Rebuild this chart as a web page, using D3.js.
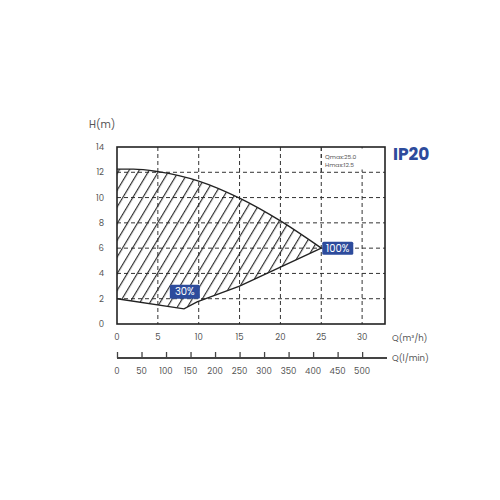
<!DOCTYPE html>
<html><head><meta charset="utf-8">
<script src="https://cdn.jsdelivr.net/npm/d3@7"></script>
<style>body{margin:0;background:#fff}svg{display:block}</style>
</head><body>
<svg id="c" width="500" height="500"></svg>
<script>
// ---- data ----
const yTicks = [0, 2, 4, 6, 8, 10, 12, 14];
const qTicks = [0, 5, 10, 15, 20, 25, 30];
const lpmTicks = [0, 50, 100, 150, 200, 250, 300, 350, 400, 450, 500];
const topCurveQ = [0, 2, 5, 10, 15, 20, 25];
const topCurveH = [12.25, 12.25, 12.05, 11.3, 9.95, 8.15, 6.0];
const botCurveQ = [0, 8.2, 9.8, 15, 20, 25];
const botCurveH = [2.0, 1.2, 1.75, 3.0, 4.5, 6.0];
const labels = ["30%", "100%"];
const labelQ = [8.3, 25];
const labelH = [2.55, 6.0];
const qmaxText = "Qmax:25.0";
const hmaxText = "Hmax:12.5";
const title = "IP20";

// ---- drawing ----
const svg = d3.select("#c");
const font = "Poppins, 'Open Sans', Roboto, sans-serif";
const x = d3.scaleLinear().domain([0, 32.8]).range([117, 385]);
const y = d3.scaleLinear().domain([0, 14]).range([324, 147]);
const x2 = d3.scaleLinear().domain([0, 32.8 * 1000 / 60]).range([117, 385]);
const blue = "#2d4b9c";

// hatch pattern
const defs = svg.append("defs");
const pat = defs.append("pattern").attr("id", "hatch").attr("patternUnits", "userSpaceOnUse")
  .attr("width", 8.6).attr("height", 10).attr("patternTransform", "rotate(31)");
pat.append("line").attr("x1", 0.6).attr("y1", -1).attr("x2", 0.6).attr("y2", 11)
  .attr("stroke", "#222").attr("stroke-width", 1.1);

// grid
const grid = svg.append("g").attr("stroke", "#333").attr("stroke-width", 1).attr("stroke-dasharray", "4,3");
grid.selectAll(".hg").data(yTicks.filter(d => d > 0 && d < 14)).join("line")
  .attr("x1", x(0)).attr("x2", x(32.8)).attr("y1", d => y(d)).attr("y2", d => y(d));
grid.selectAll(".vg").data(qTicks.filter(d => d > 0)).join("line")
  .attr("x1", d => x(d)).attr("x2", d => x(d)).attr("y1", y(14)).attr("y2", y(0));

// hatched region
const topPts = topCurveQ.map((q, i) => [q, topCurveH[i]]);
const botPts = botCurveQ.map((q, i) => [q, botCurveH[i]]);
const lineTop = d3.line().x(d => x(d[0])).y(d => y(d[1])).curve(d3.curveMonotoneX);
const lineBot = d3.line().x(d => x(d[0])).y(d => y(d[1]));
const areaPath = lineTop(topPts) + "L" + botPts.slice().reverse().map(d => x(d[0]) + "," + y(d[1])).join("L") + "Z";
svg.append("path").attr("d", areaPath).attr("fill", "url(#hatch)");
svg.append("path").attr("d", lineTop(topPts)).attr("fill", "none").attr("stroke", "#222").attr("stroke-width", 1.4);
svg.append("path").attr("d", lineBot(botPts)).attr("fill", "none").attr("stroke", "#222").attr("stroke-width", 1.4);

// frame
svg.append("rect").attr("x", x(0)).attr("y", y(14)).attr("width", x(32.8) - x(0)).attr("height", y(0) - y(14))
  .attr("fill", "none").attr("stroke", "#222").attr("stroke-width", 1.6);

// Qmax / Hmax text box
svg.append("rect").attr("x", 323).attr("y", 148.5).attr("width", 61).attr("height", 21).attr("fill", "#fff");
svg.append("line").attr("x1", x(25)).attr("x2", x(25)).attr("y1", y(14)).attr("y2", y(12)).attr("stroke", "#333")
  .attr("stroke-width", 1).attr("stroke-dasharray", "4,3");
svg.append("text").attr("x", 325).attr("y", 159).text(qmaxText).attr("font-size", 6).attr("fill", "#555").attr("font-family", font);
svg.append("text").attr("x", 325).attr("y", 166.5).text(hmaxText).attr("font-size", 6).attr("fill", "#555").attr("font-family", font);

// y axis labels
svg.append("g").selectAll("text").data(yTicks).join("text")
  .attr("x", 104).attr("y", d => y(d)).attr("dy", "0.35em").attr("text-anchor", "end")
  .attr("font-size", 8.5).attr("fill", "#555").attr("font-family", font).text(d => d);
svg.append("text").attr("x", 89).attr("y", 128).text("H(m)").attr("font-size", 10).attr("fill", "#555").attr("font-family", font);

// x axis labels (m3/h)
svg.append("g").selectAll("text").data(qTicks).join("text")
  .attr("x", d => x(d)).attr("y", 337).attr("dy", "0.35em").attr("text-anchor", "middle")
  .attr("font-size", 8.5).attr("fill", "#555").attr("font-family", font).text(d => d);
svg.append("text").attr("x", 392).attr("y", 338).attr("dy", "0.35em").text("Q(m³/h)")
  .attr("font-size", 8.5).attr("fill", "#555").attr("font-family", font);

// second axis (l/min)
const ax2 = d3.axisTop(x2).tickValues(lpmTicks).tickSize(6).tickFormat("");
const g2 = svg.append("g").attr("transform", "translate(0,358)").call(ax2);
g2.select(".domain").remove();
g2.selectAll(".tick line").attr("stroke", "#444").attr("stroke-width", 1.3);
svg.append("line").attr("x1", 117).attr("x2", 387).attr("y1", 358).attr("y2", 358).attr("stroke", "#444").attr("stroke-width", 2);
svg.append("g").selectAll("text").data(lpmTicks).join("text")
  .attr("x", d => x2(d)).attr("y", 371).attr("dy", "0.35em").attr("text-anchor", "middle")
  .attr("font-size", 8.5).attr("fill", "#555").attr("font-family", font).text(d => d);
svg.append("text").attr("x", 392).attr("y", 358).attr("dy", "0.35em").text("Q(l/min)")
  .attr("font-size", 8.5).attr("fill", "#555").attr("font-family", font);

// percent labels
const lg = svg.append("g");
labels.forEach((t, i) => {
  const w = t.length > 3 ? 31 : 30, h = t.length > 3 ? 13 : 14;
  const cx = i === 0 ? x(labelQ[i]) : x(labelQ[i]) + 1 + w / 2;
  const cy = y(labelH[i]);
  lg.append("rect").attr("x", cx - w / 2).attr("y", cy - h / 2).attr("width", w).attr("height", h)
    .attr("rx", 1.5).attr("fill", blue);
  lg.append("text").attr("x", cx).attr("y", cy).attr("dy", "0.36em").attr("text-anchor", "middle")
    .attr("font-size", 10).attr("fill", "#fff").attr("font-family", font).text(t);
});

// title
svg.append("text").attr("x", 393).attr("y", 160).text(title).attr("font-size", 17).attr("font-weight", "bold")
  .attr("fill", blue).attr("font-family", font);
</script>
</body></html>
